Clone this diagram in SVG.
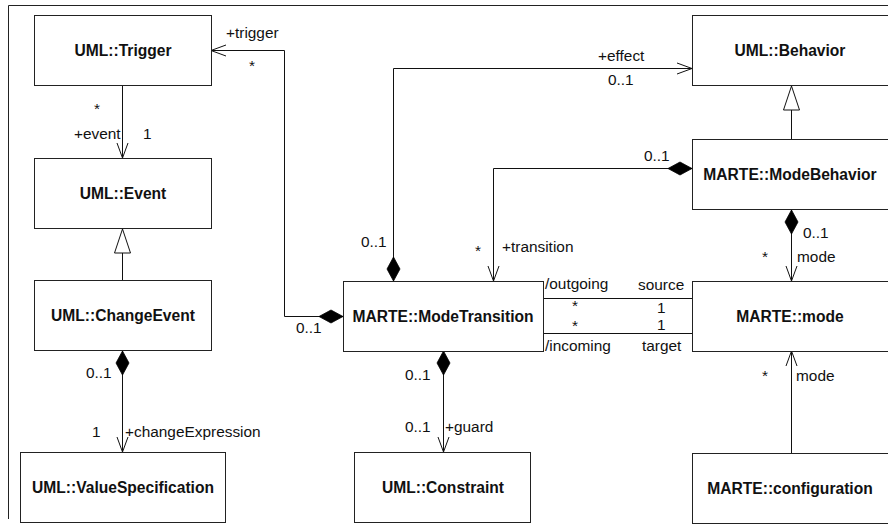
<svg xmlns="http://www.w3.org/2000/svg" width="888" height="529" viewBox="0 0 888 529">
<style>
.box{fill:#fff;stroke:#222;stroke-width:1}
.name{font-family:"Liberation Sans",Arial,sans-serif;font-weight:bold;font-size:15.6px;fill:#111;text-anchor:middle}
.lbl{font-family:"Liberation Sans",Arial,sans-serif;font-size:15.4px;fill:#111}
.ln{fill:none;stroke:#111;stroke-width:1}
.frame{fill:none;stroke:#222;stroke-width:1}
</style>
<defs>
<marker id="open" markerUnits="userSpaceOnUse" markerWidth="17" markerHeight="14" refX="15" refY="6.5" orient="auto" overflow="visible"><path d="M0,1 L15,6.5 L0,12" fill="none" stroke="#111" stroke-width="1"/></marker>
<marker id="diamond" markerUnits="userSpaceOnUse" markerWidth="26" markerHeight="15" refX="0" refY="7" orient="auto" overflow="visible"><path d="M0,7 L12,0.5 L24,7 L12,13.5 Z" fill="#000" stroke="#000" stroke-width="0.8"/></marker>
<marker id="tri" markerUnits="userSpaceOnUse" markerWidth="26" markerHeight="18" refX="24" refY="8" orient="auto" overflow="visible"><path d="M0,0 L24,8 L0,16 Z" fill="#fff" stroke="#111" stroke-width="1"/></marker>
</defs>
<path class="frame" d="M888,5.5 H8.5 V519"/>
<g id="connectors">
<path class="ln" d="M122.5,85 V158" marker-end="url(#open)"/>
<path class="ln" d="M343,316.5 H284.5 V50.5 H211" marker-start="url(#diamond)" marker-end="url(#open)"/>
<path class="ln" d="M393.5,281 V68.5 H692" marker-start="url(#diamond)" marker-end="url(#open)"/>
<path class="ln" d="M692,168.5 H493.5 V281" marker-start="url(#diamond)" marker-end="url(#open)"/>
<path class="ln" d="M791.5,210 V281" marker-start="url(#diamond)" marker-end="url(#open)"/>
<path class="ln" d="M543,298.5 H692"/>
<path class="ln" d="M543,333.5 H692"/>
<path class="ln" d="M122.5,351 V452" marker-start="url(#diamond)" marker-end="url(#open)"/>
<path class="ln" d="M122.5,280 V229" marker-end="url(#tri)"/>
<path class="ln" d="M791.5,139 V86" marker-end="url(#tri)"/>
<path class="ln" d="M443.5,351 V452" marker-start="url(#diamond)" marker-end="url(#open)"/>
<path class="ln" d="M791.5,453 V351" marker-end="url(#open)"/>
<text class="lbl" x="226" y="38">+trigger</text>
<text class="lbl" x="249" y="71">*</text>
<text class="lbl" x="94" y="114">*</text>
<text class="lbl" x="74" y="139">+event</text>
<text class="lbl" x="143" y="139">1</text>
<text class="lbl" x="598" y="61">+effect</text>
<text class="lbl" x="608" y="85">0..1</text>
<text class="lbl" x="644" y="161">0..1</text>
<text class="lbl" x="361" y="247">0..1</text>
<text class="lbl" x="475" y="256">*</text>
<text class="lbl" x="502" y="252">+transition</text>
<text class="lbl" x="803" y="238">0..1</text>
<text class="lbl" x="762" y="262">*</text>
<text class="lbl" x="797" y="262">mode</text>
<text class="lbl" x="545" y="289">/outgoing</text>
<text class="lbl" x="638" y="290">source</text>
<text class="lbl" x="572" y="311">*</text>
<text class="lbl" x="657" y="313">1</text>
<text class="lbl" x="572" y="331">*</text>
<text class="lbl" x="657" y="330">1</text>
<text class="lbl" x="545" y="351">/incoming</text>
<text class="lbl" x="642" y="351">target</text>
<text class="lbl" x="296" y="333">0..1</text>
<text class="lbl" x="86" y="378">0..1</text>
<text class="lbl" x="92" y="437">1</text>
<text class="lbl" x="125" y="437">+changeExpression</text>
<text class="lbl" x="405" y="380">0..1</text>
<text class="lbl" x="405" y="432">0..1</text>
<text class="lbl" x="445" y="432">+guard</text>
<text class="lbl" x="762" y="381">*</text>
<text class="lbl" x="796" y="381">mode</text>
</g>
<g id="trigger"><rect class="box" x="34.5" y="15.5" width="177" height="70"/><text class="name" x="123" y="56">UML::Trigger</text></g>
<g id="event"><rect class="box" x="34.5" y="158.5" width="177" height="70"/><text class="name" x="123" y="199">UML::Event</text></g>
<g id="changeevent"><rect class="box" x="34.5" y="280.5" width="177" height="70"/><text class="name" x="123" y="321">UML::ChangeEvent</text></g>
<g id="valuespecification"><rect class="box" x="20.5" y="452.5" width="205" height="70"/><text class="name" x="123" y="493">UML::ValueSpecification</text></g>
<g id="modetransition"><rect class="box" x="343.5" y="281.5" width="200" height="70"/><text class="name" x="443" y="322">MARTE::ModeTransition</text></g>
<g id="constraint"><rect class="box" x="354.5" y="452.5" width="176" height="70"/><text class="name" x="443" y="493">UML::Constraint</text></g>
<g id="behavior"><rect class="box" x="692.5" y="15.5" width="200" height="70"/><text class="name" x="790" y="56">UML::Behavior</text></g>
<g id="modebehavior"><rect class="box" x="692.5" y="139.5" width="200" height="70"/><text class="name" x="790" y="180">MARTE::ModeBehavior</text></g>
<g id="mode"><rect class="box" x="692.5" y="281.5" width="200" height="70"/><text class="name" x="790" y="322">MARTE::mode</text></g>
<g id="configuration"><rect class="box" x="692.5" y="453.5" width="200" height="70"/><text class="name" x="790" y="494">MARTE::configuration</text></g>
</svg>
